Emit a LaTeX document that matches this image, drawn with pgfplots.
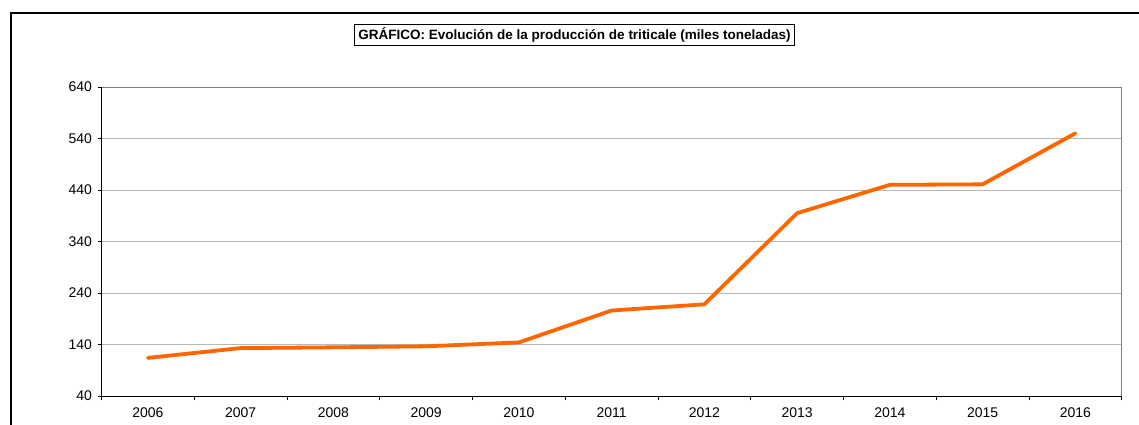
\documentclass[border=0pt]{standalone}
\usepackage{pgfplots}
\pgfplotsset{compat=1.18}
\usepackage{fontspec}
\setmainfont{Liberation Sans}
\definecolor{lineorange}{HTML}{FF6600}
\definecolor{gridgray}{HTML}{B8B8B8}
\definecolor{framegray}{HTML}{808080}
\begin{document}
\begin{tikzpicture}
\useasboundingbox (0,0) rectangle (1139bp,-425bp);
\begin{scope}[x=1bp,y=-1bp]
\draw[line width=2.5bp] (11.2,445) -- (11.2,12.8) -- (1160,12.8);
\node[draw, line width=1.8bp, inner xsep=4bp, inner ysep=0pt, minimum height=21bp,
      font=\fontsize{13.5bp}{16bp}\selectfont\bfseries] at (574.5,35)
  {GRÁFICO: Evolución de la producción de triticale (miles toneladas)};
\end{scope}
\begin{axis}[
  at={(101.5bp,-396bp)}, anchor=south west,
  width=1020.2bp, height=309bp, scale only axis,
  xmin=-0.5, xmax=10.5, ymin=40, ymax=640,
  xtick={0,...,10},
  xticklabels={2006,2007,2008,2009,2010,2011,2012,2013,2014,2015,2016},
  minor xtick={-0.5,0.5,...,10.5},
  major x tick style={draw=none},
  ytick={40,140,240,340,440,540,640},
  tick pos=left, tick align=outside,
  major tick length=4bp, minor tick length=4bp,
  tick style={black, line width=0.8bp},
  ymajorgrids, major grid style={gridgray, line width=0.9bp},
  axis line style={framegray, line width=0.9bp},
  /pgf/number format/assume math mode=true,
  ticklabel style={font=\fontsize{14bp}{16bp}\selectfont},
  yticklabel style={/pgf/number format/1000 sep={}, xshift=-2bp},
  xticklabel style={yshift=-4.5bp},
  clip=false,
]
\addplot[lineorange, line width=3.8bp, line join=round, line cap=round] coordinates {
  (0,114) (1,133) (2,134.5) (3,136.5) (4,144) (5,206) (6,218)
  (7,395) (8,450) (9,451) (10,550)
};
\draw[black, line width=1bp] (rel axis cs:0,1) -- (rel axis cs:0,0) -- (rel axis cs:1,0);
\end{axis}
\end{tikzpicture}
\end{document}
